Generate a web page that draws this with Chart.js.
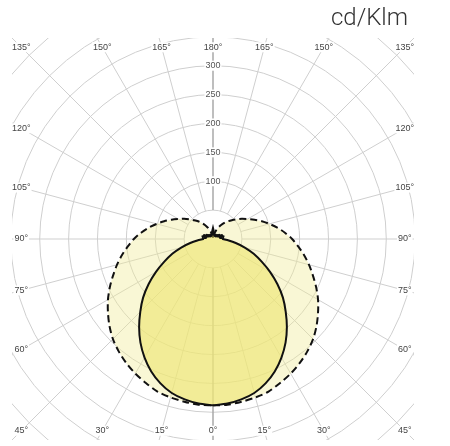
<!DOCTYPE html>
<html>
<head>
<meta charset="utf-8">
<script src="https://cdn.jsdelivr.net/npm/chart.js@4.4.1/dist/chart.umd.min.js"></script>
<style>
  html, body { margin: 0; padding: 0; background: #fff; }
  #wrap { width: 450px; height: 446px; position: relative; }
</style>
</head>
<body>
<div id="wrap"><canvas id="polarChart"></canvas></div>
<script>
// Gamma angles (degrees from nadir) and intensities in cd/klm
const gammaAngles = [0, 5, 10, 15, 20, 25, 30, 35, 40, 45, 50, 55, 60, 65, 70, 75, 80, 85, 90,
                     95, 100, 105, 110, 115, 120, 125, 130, 135, 140, 145, 150, 155, 160, 165, 170, 175, 180];
const planeC0C180 = [288, 286, 282, 276, 266, 253, 237, 219, 199, 178, 158, 136, 114, 93, 75, 57, 40, 26, 17,
                     18, 12, 19, 11, 17, 9, 13, 7, 10, 6, 9, 6, 8, 6, 10, 8, 14, 19];
const planeC90C270 = [288, 288, 286, 284, 281, 275, 269, 262, 254, 245, 234, 222, 210, 197, 184, 172, 160, 148, 137,
                      125, 113, 101, 90, 79, 69, 61, 53, 46, 40, 34, 28, 22, 16, 11, 6, 3, 0];

// Grid: rings (cd/klm), labelled rings, angle labels (degrees)
const ringValues = [50, 100, 150, 200, 250, 300, 350, 400, 450, 500];
const ringLabels = [100, 150, 200, 250, 300];
const angleLabels = [0, 15, 30, 45, 60, 75, 90, 105, 120, 135, 150, 165, 180];
const unitLabel = 'cd/Klm';

const axisRange = 348;   // half width of the square plot, in cd/klm
const labelInset = 332;  // where the angle labels sit, in cd/klm

// Turn one plane (both halves, mirrored) into a closed x/y outline
function toOutline(values) {
    const pts = [];
    gammaAngles.forEach((g, i) => {
        const a = g * Math.PI / 180;
        pts.push({ x: values[i] * Math.sin(a), y: -values[i] * Math.cos(a) });
    });
    for (let i = gammaAngles.length - 1; i >= 0; i--) {
        const a = gammaAngles[i] * Math.PI / 180;
        pts.push({ x: -values[i] * Math.sin(a), y: -values[i] * Math.cos(a) });
    }
    return pts;
}

const polarGrid = {
    id: 'polarGrid',
    beforeDatasetsDraw(chart) {
        const { ctx, chartArea } = chart;
        const sx = chart.scales.x, sy = chart.scales.y;
        const px = (x, y) => [sx.getPixelForValue(x), sy.getPixelForValue(y)];
        const [cx, cy] = px(0, 0);
        const unit = sx.getPixelForValue(1) - cx;

        ctx.save();
        ctx.beginPath();
        ctx.rect(chartArea.left, chartArea.top, chartArea.right - chartArea.left, chartArea.bottom - chartArea.top);
        ctx.clip();

        ctx.strokeStyle = '#cfcfcf';
        ctx.lineWidth = 1;
        ringValues.forEach(v => {
            ctx.beginPath();
            ctx.arc(cx, cy, v * unit, 0, Math.PI * 2);
            ctx.stroke();
        });

        // radial lines every 15 degrees, starting at the first ring
        for (let g = 0; g < 360; g += 15) {
            const a = g * Math.PI / 180;
            const [x1, y1] = px(50 * Math.sin(a), -50 * Math.cos(a));
            const [x2, y2] = px(700 * Math.sin(a), -700 * Math.cos(a));
            ctx.strokeStyle = (g % 180 === 0) ? '#a8a8a8' : '#cfcfcf';
            ctx.lineWidth = (g % 180 === 0) ? 1.5 : 1;
            ctx.beginPath();
            ctx.moveTo(x1, y1);
            ctx.lineTo(x2, y2);
            ctx.stroke();
        }
        ctx.restore();
    },
    afterDatasetsDraw(chart) {
        const { ctx, chartArea } = chart;
        const sx = chart.scales.x, sy = chart.scales.y;

        ctx.save();
        ctx.font = "9px 'Liberation Sans', Arial, sans-serif";
        ctx.textAlign = 'center';
        ctx.textBaseline = 'middle';

        // ring values along the upper vertical axis
        ringLabels.forEach(v => {
            const x = sx.getPixelForValue(0), y = sy.getPixelForValue(v);
            const w = ctx.measureText(String(v)).width;
            ctx.fillStyle = '#fff';
            ctx.fillRect(x - w / 2 - 1, y - 5, w + 2, 10);
            ctx.fillStyle = '#555';
            ctx.fillText(String(v), x, y);
        });

        // angle labels on the square edge, both halves
        angleLabels.forEach(g => {
            const sides = (g === 0 || g === 180) ? [1] : [-1, 1];
            sides.forEach(side => {
                const a = g * Math.PI / 180;
                const dx = side * Math.sin(a), dy = -Math.cos(a);
                const t = labelInset / Math.max(Math.abs(dx), Math.abs(dy));
                const x = sx.getPixelForValue(dx * t), y = sy.getPixelForValue(dy * t);
                const txt = g + '°';
                const w = ctx.measureText(txt).width;
                ctx.fillStyle = '#fff';
                ctx.fillRect(x - w / 2 - 1, y - 5, w + 2, 10);
                ctx.fillStyle = '#444';
                ctx.fillText(txt, x, y);
            });
        });

        // unit caption above the plot
        ctx.font = "300 24px Roboto, 'Liberation Sans', sans-serif";
        ctx.textAlign = 'right';
        ctx.textBaseline = 'alphabetic';
        ctx.fillStyle = '#333';
        ctx.fillText(unitLabel, chartArea.right - 6, 25);
        ctx.restore();
    }
};

new Chart(document.getElementById('polarChart'), {
    type: 'scatter',
    data: {
        datasets: [
            {
                label: 'C0 - C180',
                data: toOutline(planeC0C180),
                showLine: true,
                borderColor: '#111',
                borderWidth: 2,
                backgroundColor: 'rgba(238, 230, 110, 0.6)',
                fill: 'shape',
                tension: 0.2,
                pointRadius: 0,
                order: 1
            },
            {
                label: 'C90 - C270',
                data: toOutline(planeC90C270),
                showLine: true,
                borderColor: '#111',
                borderWidth: 2,
                borderDash: [7, 4],
                backgroundColor: 'rgba(240, 235, 150, 0.4)',
                fill: 'shape',
                tension: 0.3,
                pointRadius: 0,
                order: 2
            }
        ]
    },
    options: {
        responsive: true,
        maintainAspectRatio: false,
        animation: false,
        layout: { padding: { left: 12, right: 36, top: 38, bottom: 6 } },
        plugins: {
            legend: { display: false },
            tooltip: { enabled: false }
        },
        scales: {
            x: { type: 'linear', min: -axisRange, max: axisRange, display: false },
            y: { type: 'linear', min: -axisRange, max: axisRange, display: false }
        }
    },
    plugins: [polarGrid]
});
</script>
</body>
</html>
